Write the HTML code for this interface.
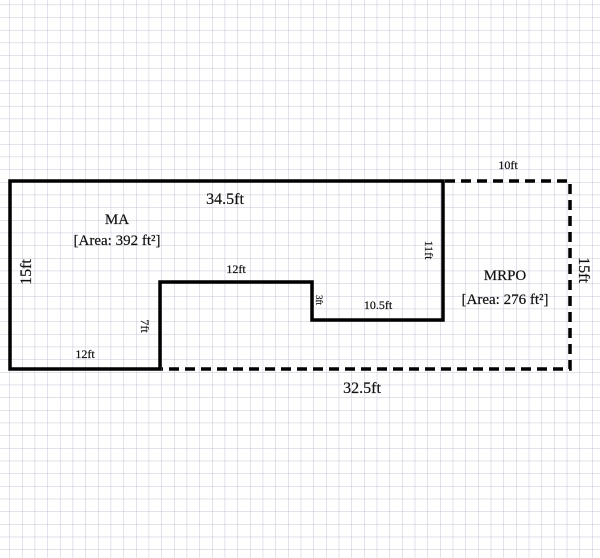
<!DOCTYPE html>
<html><head><style>
body{margin:0;background:#fff}
svg{display:block}
text{font-family:"Liberation Serif",serif;fill:#111;stroke:#111;stroke-width:0.2}
</style></head><body>
<svg width="600" height="558" xmlns="http://www.w3.org/2000/svg">
<defs>
<pattern id="g" x="9.3" y="4.6" width="12.67" height="12.67" patternUnits="userSpaceOnUse">
<path d="M0 0H12.67M0 0V12.67" stroke="#c4c5d6" stroke-width="1" fill="none"/>
</pattern>
</defs>
<rect width="600" height="558" fill="url(#g)"/>
<g stroke="#000" stroke-width="3.5" fill="none" stroke-linecap="square">
<path d="M160 369H10V181H443V320H312V282H160V369"/>
</g>
<g stroke="#000" stroke-width="3.5" fill="none" stroke-dasharray="10,6">
<path d="M445 181H570V369H162"/>
</g>
<text x="225" y="204" font-size="16" text-anchor="middle">34.5ft</text>
<text x="508" y="169" font-size="12" text-anchor="middle">10ft</text>
<text x="117" y="224" font-size="15" text-anchor="middle">MA</text>
<text x="117" y="245" font-size="15" text-anchor="middle">[Area: 392 ft²]</text>
<text x="505" y="280" font-size="15" text-anchor="middle">MRPO</text>
<text x="505" y="304" font-size="15" text-anchor="middle">[Area: 276 ft²]</text>
<text x="236" y="273" font-size="12" text-anchor="middle">12ft</text>
<text x="378" y="309" font-size="12" text-anchor="middle">10.5ft</text>
<text x="85" y="358" font-size="12" text-anchor="middle">12ft</text>
<text x="362" y="393" font-size="16" text-anchor="middle">32.5ft</text>
<text transform="translate(31,272) rotate(-90)" font-size="16" text-anchor="middle">15ft</text>
<text transform="translate(579,270) rotate(90)" font-size="16" text-anchor="middle">15ft</text>
<text transform="translate(141,326) rotate(90)" font-size="12" text-anchor="middle">7ft</text>
<text transform="translate(425,250) rotate(90)" font-size="12" text-anchor="middle">11ft</text>
<text transform="translate(316,300) rotate(90)" font-size="9" text-anchor="middle">3ft</text>
</svg>
</body></html>
